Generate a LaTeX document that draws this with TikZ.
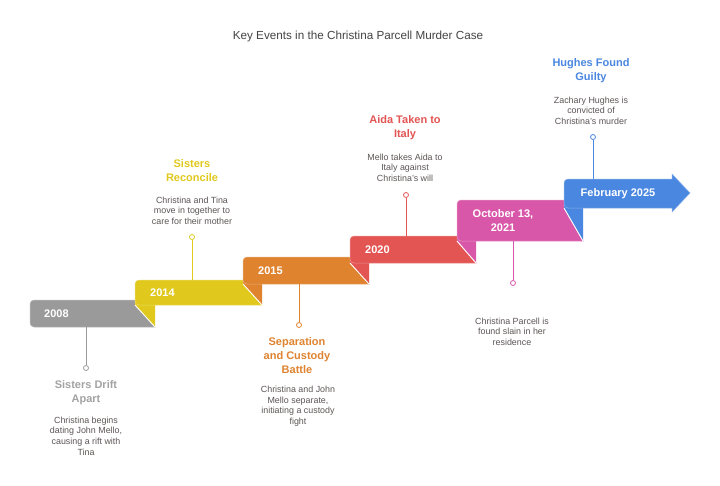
\documentclass[tikz,border=0pt]{standalone}
\usepackage{fontspec}
\setmainfont{Liberation Sans}
\definecolor{cgrey}{HTML}{9A9A9A}
\definecolor{cyel}{HTML}{E0C91C}
\definecolor{corg}{HTML}{DF832F}
\definecolor{cred}{HTML}{E25553}
\definecolor{cpink}{HTML}{D957A8}
\definecolor{cblue}{HTML}{4A87E0}
\definecolor{cdesc}{HTML}{5E5656}
\definecolor{chead}{HTML}{444444}
\definecolor{tgrey}{HTML}{A3A3A3}
\begin{document}
\begin{tikzpicture}[x=1pt,y=-1pt,
  bar/.style={fill=#1, draw=#1!65!white, line width=0.5pt},
  fold/.style={fill=#1},
  crease/.style={draw=white, line width=0.9pt},
  yr/.style={font=\bfseries\fontsize{11}{13.5}\selectfont, text=white, inner sep=0pt, align=center},
  ttl/.style={font=\bfseries\fontsize{11}{14}\selectfont, text=#1, inner sep=0pt, align=center},
  dsc/.style={font=\fontsize{8.9}{10.6}\selectfont, text=cdesc, inner sep=0pt, align=center},
  dot/.style={circle, draw=#1, fill=white, line width=0.8pt, minimum size=5pt, inner sep=0pt},
  stem/.style={draw=#1, line width=1pt}]
\useasboundingbox (0,0) rectangle (720,485);
\fill[white] (0,0) rectangle (720,485);

\node[font=\fontsize{11.7}{14}\selectfont, text=chead, inner sep=0pt] (head) at (358,36) {Key Events in the Christina Parcell Murder Case};

% bar 1 (2008)
\path[bar=cgrey] (135,300) -- (38,300) [rounded corners=4] -- (30,300) -- (30,327) -- (38,327) [sharp corners] -- (155,327) -- (135,305) -- cycle;
\path[fold=cyel] (135,300) -- (155,300) -- (155,327) -- (135,305) -- cycle;
\path[crease] (135,305) -- (155,327);
% bar 2 (2014)
\path[bar=cyel] (243,280) -- (143,280) [rounded corners=4] -- (135,280) -- (135,305) -- (143,305) [sharp corners] -- (262,305) -- (243,284) -- cycle;
\path[fold=corg] (243,280) -- (262,280) -- (262,305) -- (243,284) -- cycle;
\path[crease] (243,284) -- (262,305);
% bar 3 (2015)
\path[bar=corg] (350,257) -- (251,257) [rounded corners=4] -- (243,257) -- (243,284) -- (251,284) [sharp corners] -- (369,284) -- (350,263) -- cycle;
\path[fold=cred] (350,257) -- (369,257) -- (369,284) -- (350,263) -- cycle;
\path[crease] (350,263) -- (369,284);
% bar 4 (2020)
\path[bar=cred] (457,236) -- (358,236) [rounded corners=4] -- (350,236) -- (350,263) -- (358,263) [sharp corners] -- (476,263) -- (457,241) -- cycle;
\path[fold=cpink] (457,236) -- (476,236) -- (476,263) -- (457,241) -- cycle;
\path[crease] (457,241) -- (476,263);
% bar 5 (October 13, 2021)
\path[bar=cpink] (564,200) -- (465,200) [rounded corners=4] -- (457,200) -- (457,241) -- (465,241) [sharp corners] -- (583,241) -- (564,208) -- cycle;
\path[fold=cblue] (564,200) -- (583,200) -- (583,241) -- (564,208) -- cycle;
\path[crease] (564,208) -- (583,241);
% bar 6 (February 2025) arrow
\path[bar=cblue] (690,193) -- (672,174) -- (672,179) -- (572,179) [rounded corners=4] -- (564,179) -- (564,208) -- (572,208) [sharp corners] -- (672,208) -- (672,212) -- cycle;

% year labels
\node[yr, anchor=west] (y1) at (44,313.5) {2008};
\node[yr, anchor=west] (y2) at (150,292.5) {2014};
\node[yr, anchor=west] (y3) at (258,270.5) {2015};
\node[yr, anchor=west] (y4) at (365,249.5) {2020};
\node[yr] (y5) at (503,220.5) {October 13,\\2021};
\node[yr] (y6) at (618,193.5) {February 2025};

% anchor points on bars
\coordinate (a1) at (86,327);
\coordinate (a2) at (192,280);
\coordinate (a3) at (299,284);
\coordinate (a4) at (406,236);
\coordinate (a5) at (513,241);
\coordinate (a6) at (593,179);

% dots
\node[dot=cgrey] (d1) at (86,368) {};
\node[dot=cyel] (d2) at (192,237) {};
\node[dot=corg] (d3) at (299,325) {};
\node[dot=cred] (d4) at (406,195) {};
\node[dot=cpink] (d5) at (513,283) {};
\node[dot=cblue] (d6) at (593,137) {};

\draw[stem=cgrey] (a1) -- (d1);
\draw[stem=cyel] (a2) -- (d2);
\draw[stem=corg] (a3) -- (d3);
\draw[stem=cred] (a4) -- (d4);
\draw[stem=cpink] (a5) -- (d5);
\draw[stem=cblue] (a6) -- (d6);

% titles and descriptions
\node[ttl=tgrey] (t1) at (86,392.5) {Sisters Drift\\Apart};
\node[dsc] (s1) at (86,436) {Christina begins\\dating John Mello,\\causing a rift with\\Tina};

\node[ttl=cyel] (t2) at (192,170.5) {Sisters\\Reconcile};
\node[dsc] (s2) at (192,210.5) {Christina and Tina\\move in together to\\care for their mother};

\node[ttl=corg] (t3) at (297,356) {Separation\\and Custody\\Battle};
\node[dsc] (s3) at (298,406) {Christina and John\\Mello separate,\\initiating a custody\\fight};

\node[ttl=cred] (t4) at (405,128) {Aida Taken to\\Italy};
\node[dsc] (s4) at (405,167.5) {Mello takes Aida to\\Italy against\\Christina's will};

\node[dsc] (s5) at (512,331.5) {Christina Parcell is\\found slain in her\\residence};

\node[ttl=cblue] (t6) at (591,71) {Hughes Found\\Guilty};
\node[dsc] (s6) at (591,110.5) {Zachary Hughes is\\convicted of\\Christina's murder};
\end{tikzpicture}
\end{document}
